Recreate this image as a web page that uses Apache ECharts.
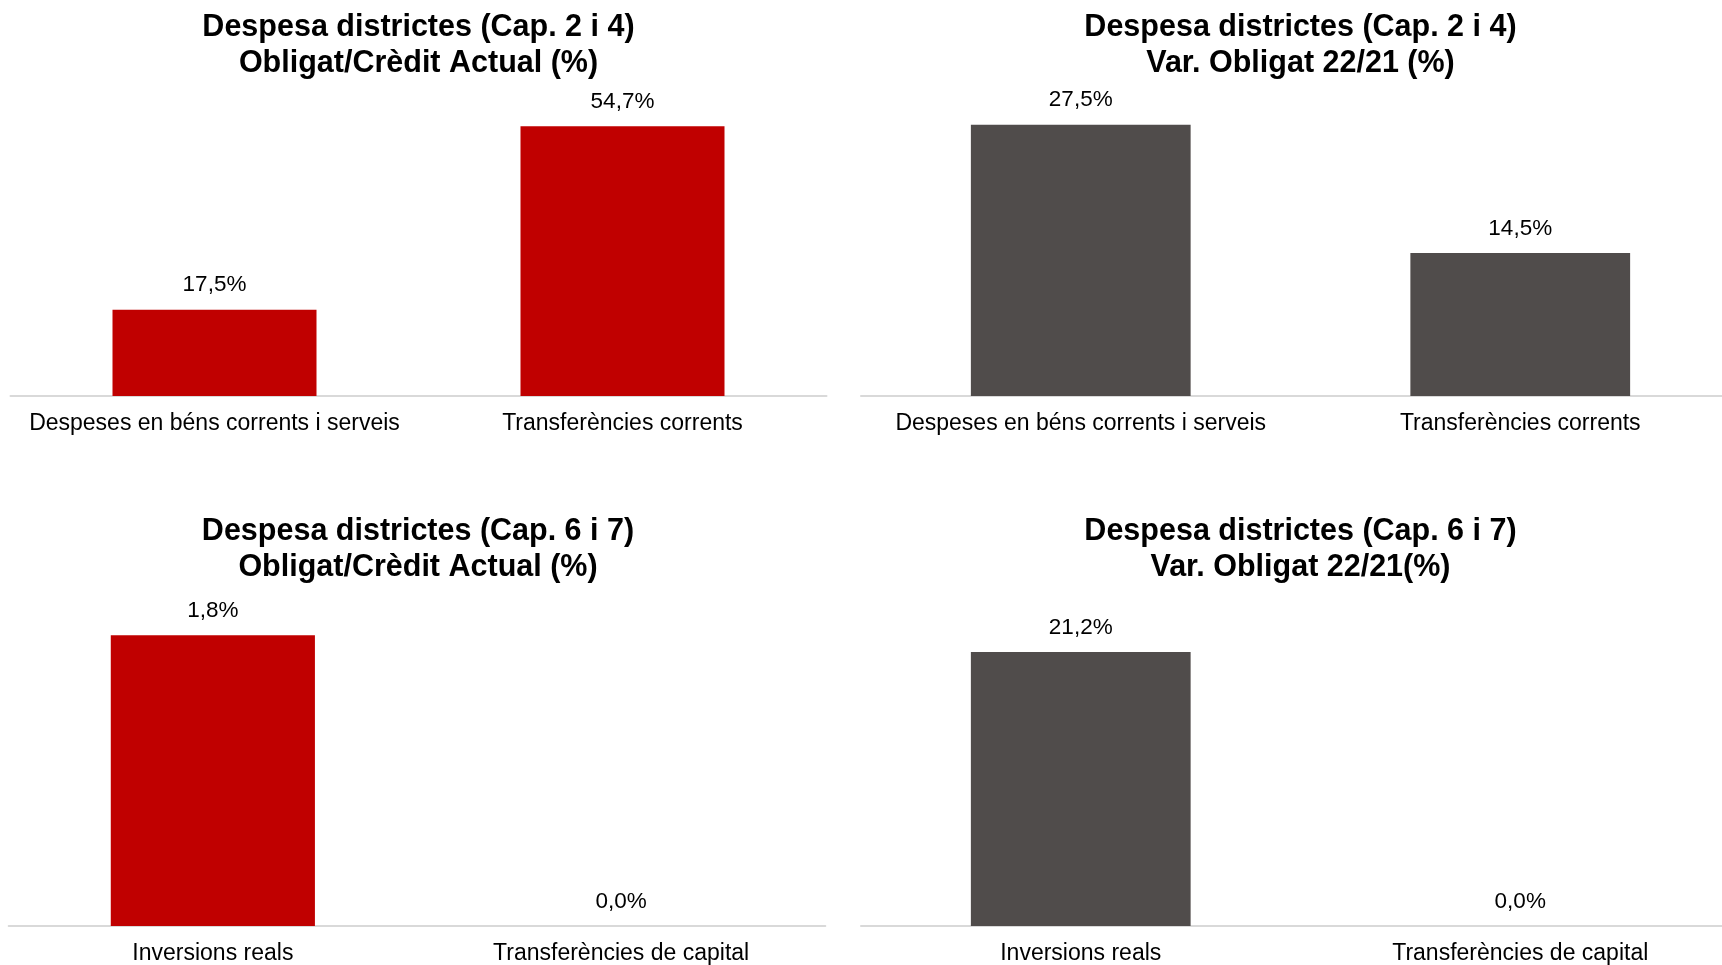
<!DOCTYPE html>
<html>
<head>
<meta charset="utf-8">
<script src="https://cdn.jsdelivr.net/npm/echarts@6/dist/echarts.min.js"></script>
<style>
html,body{margin:0;padding:0;background:#fff;overflow:hidden;width:1722px;height:965px;}
#chart{width:1760px;height:965px;}
</style>
</head>
<body>
<div id="chart"></div>
<script>
// ---- Data ----
const titles = [
  'Despesa districtes (Cap. 2 i 4)\nObligat/Crèdit Actual (%)',
  'Despesa districtes (Cap. 2 i 4)\nVar. Obligat 22/21 (%)',
  'Despesa districtes (Cap. 6 i 7)\nObligat/Crèdit Actual (%)',
  'Despesa districtes (Cap. 6 i 7)\nVar. Obligat 22/21(%)'
];
const categoriesCap24 = ['Despeses en béns corrents i serveis', 'Transferències corrents'];
const categoriesCap67 = ['Inversions reals', 'Transferències de capital'];
const obligatCreditCap24 = [17.5, 54.7];
const varObligatCap24 = [27.5, 14.5];
const obligatCreditCap67 = [1.8, 0.0];
const varObligatCap67 = [21.2, 0.0];
const axisMax = [60, 30, 2, 25];

// ---- Styles / layout ----
const RED = '#C00000';
const GREY = '#504C4B';
const FONT = "'Liberation Sans', Arial, sans-serif";

const grids = [
  { left: 10.5, width: 816, top: 100, height: 296 },
  { left: 861, width: 879, top: 100, height: 296 },
  { left: 8.7, width: 816.6, top: 603, height: 324 },
  { left: 861, width: 879, top: 603, height: 324 }
];
const titleCenters = [[418.5, 10], [1300.5, 10], [418, 514], [1300.5, 514]];
const cats = [categoriesCap24, categoriesCap24, categoriesCap67, categoriesCap67];
const vals = [obligatCreditCap24, varObligatCap24, obligatCreditCap67, varObligatCap67];
const colors = [RED, GREY, RED, GREY];

const fmt = v => v.toFixed(1).replace('.', ',') + '%';

const option = {
  backgroundColor: '#fff',
  animation: false,
  title: titles.map((t, i) => ({
    text: t,
    left: titleCenters[i][0],
    top: titleCenters[i][1],
    textAlign: 'center',
    padding: 0,
    textStyle: { fontFamily: FONT, fontSize: 30.5, fontWeight: 'bold', color: '#000', lineHeight: 35.5 }
  })),
  grid: grids.map(g => Object.assign({ containLabel: false }, g)),
  xAxis: cats.map((c, i) => ({
    type: 'category',
    gridIndex: i,
    data: c,
    axisTick: { show: false },
    axisLine: { show: true, lineStyle: { color: '#D9D9D9', width: 2 } },
    axisLabel: { interval: 0, margin: 16, fontFamily: FONT, fontSize: 23, color: '#000' }
  })),
  yAxis: axisMax.map((m, i) => ({
    type: 'value',
    gridIndex: i,
    min: 0,
    max: m,
    show: false,
    splitLine: { show: false }
  })),
  series: vals.map((v, i) => ({
    type: 'bar',
    xAxisIndex: i,
    yAxisIndex: i,
    data: v,
    barWidth: '50%',
    itemStyle: { color: colors[i] },
    label: {
      show: true,
      position: 'top',
      distance: 13,
      fontFamily: FONT,
      fontSize: 22.5,
      color: '#000',
      formatter: p => fmt(p.value)
    }
  }))
};

const chart = echarts.init(document.getElementById('chart'), null, { renderer: 'canvas' });
chart.setOption(option);
</script>
</body>
</html>
